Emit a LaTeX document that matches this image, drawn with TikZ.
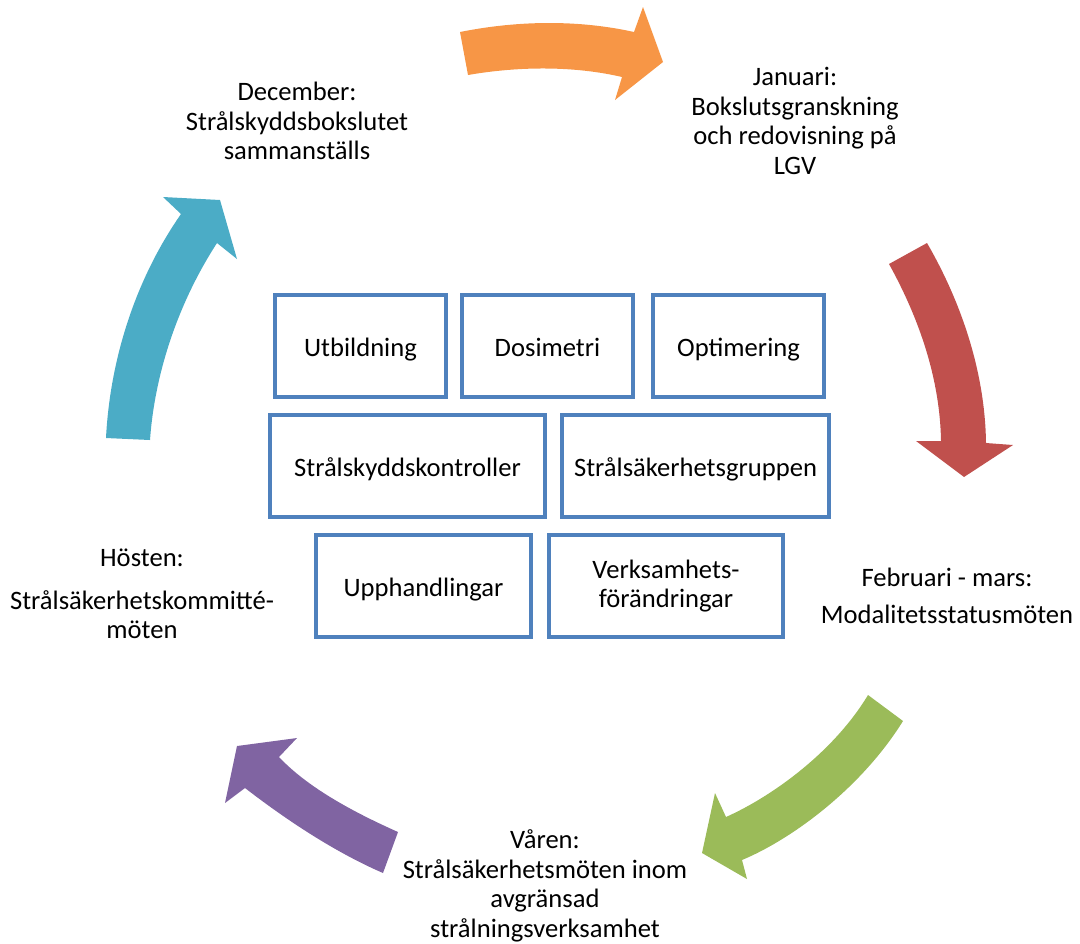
\documentclass[tikz,border=0pt]{standalone}
\usepackage{fontspec}
\setmainfont{Carlito}
\usepackage{xcolor}
\usepackage{tikz}
\definecolor{boxblue}{HTML}{4F81BD}
\definecolor{janorange}{HTML}{F79646}
\definecolor{febred}{HTML}{C0504D}
\definecolor{springgreen}{HTML}{9BBB59}
\definecolor{autumnpurple}{HTML}{8064A2}
\definecolor{decblue}{HTML}{4BACC6}

\begin{document}
\begin{tikzpicture}[x=0.5pt,y=-0.5pt,font=\fontsize{13.3}{14.75}\selectfont,
    box/.style={rectangle,draw=boxblue,line width=2.2pt,minimum height=51pt,align=center},
    topic/.style={box,text height=11.5pt,text depth=1pt},
    period/.style={align=center},
    band/.style={draw=none}]
    \useasboundingbox (0,0) rectangle (1080,943);

    \fill[band,janorange] (460,32) .. controls (520,20) and (580,20) .. (634,32) -- (643,7) -- (663,62)
      -- (615,100) -- (622,77) .. controls (575,66) and (520,66) .. (468,75) -- cycle;
    \fill[band,febred] (889,264) .. controls (920,320) and (940,380) .. (941,441) -- (916,441) -- (964,477)
      -- (1013,445) -- (986,443) .. controls (985,370) and (960,300) .. (927,243) -- cycle;
    \fill[band,springgreen] (868,695) .. controls (835,750) and (775,795) .. (726,817) -- (715,793) -- (702,853)
      -- (747,879) -- (742,860) .. controls (790,840) and (860,790) .. (903,721) -- cycle;
    \fill[band,autumnpurple] (398,832) .. controls (360,815) and (310,790) .. (279,757) -- (297,738) -- (237,746)
      -- (225,803) -- (245,788) .. controls (280,815) and (330,850) .. (383,873) -- cycle;
    \fill[band,decblue] (106,438) .. controls (110,360) and (135,280) .. (181,214) -- (163,197) -- (220,200)
      -- (237,259) -- (217,243) .. controls (180,300) and (155,370) .. (150,440) -- cycle;

    \node[topic,minimum width=85.5pt] (1) at (360.5,346) {Utbildning};
    \node[topic,minimum width=85.5pt] (2) at (547.5,346) {Dosimetri};
    \node[topic,minimum width=85.5pt] (3) at (738.5,346) {Optimering};
    \node[topic,minimum width=137.5pt] (4) at (407.5,466) {Strålskyddskontroller};
    \node[topic,minimum width=133.5pt] (5) at (695.5,466) {Strålsäkerhetsgruppen};
    \node[topic,minimum width=107.5pt] (6) at (423.5,586) {Upphandlingar};
    \node[box,minimum width=117pt] (7) at (666,586) {Verksamhets-\\förändringar};

    \node[period] (8) at (297,121) {December:\\Strålskyddsbokslutet\\sammanställs};
    \node[period] (9) at (795,121) {Januari:\\Bokslutsgranskning\\och redovisning på\\LGV};
    \node[period] (10) at (947,596) {Februari - mars:\\[3.5pt]Modalitetsstatusmöten};
    \node[period] (11) at (545,886) {Våren:\\Strålsäkerhetsmöten inom\\avgränsad\\strålningsverksamhet};
    \node[period] (12) at (142,594) {Hösten:\\[6.5pt]Strålsäkerhetskommitté-\\möten};
\end{tikzpicture}
\end{document}
